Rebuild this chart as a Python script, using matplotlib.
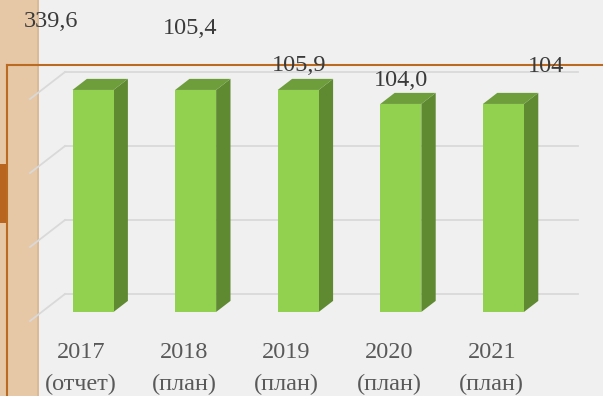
import numpy as np
import matplotlib.pyplot as plt
from matplotlib.patches import Polygon, Rectangle
from matplotlib.lines import Line2D
from matplotlib.transforms import IdentityTransform

years = ['2017', '2018', '2019', '2020', '2021']
kinds = ['(отчет)', '(план)', '(план)', '(план)', '(план)']
values = [339.6, 105.4, 105.9, 104.0, 104]
value_labels = ['339,6', '105,4', '105,9', '104,0', '104']

# value range of the chart walls, bars above the top are cut at it
y_floor, y_top = 83.2, 105.4

W, H = 603, 396
plt.rcParams['font.family'] = ['Liberation Serif', 'DejaVu Serif']

fig = plt.figure(figsize=(W / 100, H / 100), dpi=100)
fig.patch.set_facecolor('#f0f0f0')

# wooden strip and orange frame on the slide
fig.add_artist(Rectangle((0, 0), 39 / W, 1, transform=fig.transFigure,
                         facecolor='#e6c8a6', edgecolor='none', zorder=0))
fig.add_artist(Line2D([38 / W] * 2, [0, 1], transform=fig.transFigure,
                      color='#d8b894', lw=1.2, zorder=0))
fig.add_artist(Rectangle((0, 1 - 223 / H), 7.5 / W, 59 / H, transform=fig.transFigure,
                         facecolor='#b8651f', edgecolor='none', zorder=1))
fig.add_artist(Line2D([6.5 / W, 1], [1 - 65 / H] * 2, transform=fig.transFigure,
                      color='#bb6a22', lw=1.5, zorder=5))
fig.add_artist(Line2D([6.5 / W] * 2, [0, 1 - 65 / H], transform=fig.transFigure,
                      color='#bb6a22', lw=1.5, zorder=5))

ax = fig.add_axes([30 / W, (H - 321) / H, 513 / W, 222 / H])
ax.set_xlim(-0.5, len(years) - 0.5)
ax.set_ylim(y_floor, y_top)
ax.set_autoscale_on(False)
ax.patch.set_alpha(0)
for s in ax.spines.values():
    s.set_visible(False)
ax.set_yticks([])
ax.set_xticks(range(len(years)))
ax.set_xticklabels([f'{y}\n{k}' for y, k in zip(years, kinds)],
                   fontsize=17.5, color='#595959', linespacing=1.7)
ax.tick_params(axis='x', length=0, pad=15)

# depth of the 3d box in pixels (x right, y up)
depth = np.array([35.0, 27.0])
f_front, f_back = 0.335, 0.745
ident = IdentityTransform()


def px(x, y):
    return ax.transData.transform((x, y))


# back wall gridlines and their left wall diagonals
for g in np.linspace(y_floor, y_top, 4):
    a = px(-0.5, g)
    b = px(len(years) - 0.5, g)
    ax.add_line(Line2D([a[0] + depth[0], b[0] + depth[0]], [a[1] + depth[1], b[1] + depth[1]],
                       transform=ident, color='#d9d9d9', lw=1.3, clip_on=False, zorder=1))
    ax.add_line(Line2D([a[0], a[0] + depth[0]], [a[1], a[1] + depth[1]],
                       transform=ident, color='#d9d9d9', lw=1.3, clip_on=False, zorder=1))

width = 0.40
shown = np.minimum(values, y_top)
for i, h in enumerate(shown):
    xl, xr = i - width / 2, i + width / 2
    d1, d2 = depth * f_front, depth * f_back
    front = [px(xl, y_floor) + d1, px(xr, y_floor) + d1, px(xr, h) + d1, px(xl, h) + d1]
    side = [px(xr, y_floor) + d1, px(xr, y_floor) + d2, px(xr, h) + d2, px(xr, h) + d1]
    top = [px(xl, h) + d1, px(xr, h) + d1, px(xr, h) + d2, px(xl, h) + d2]
    for pts, col in [(side, '#5f8a32'), (top, '#6e9e3c'), (front, '#92d050')]:
        ax.add_patch(Polygon(pts, closed=True, transform=ident, facecolor=col,
                             edgecolor='none', clip_on=False, zorder=3))

# data labels sit away from their bars
label_pos = [(51, 21.5), (190, 28), (299, 65.5), (401, 80.5), (546, 67)]
for txt, (x, y) in zip(value_labels, label_pos):
    fig.text(x / W, 1 - y / H, txt, ha='center', va='center',
             fontsize=17.5, color='#3a3a3a', zorder=6)

fig.savefig('out.png', dpi=100, facecolor=fig.get_facecolor())
